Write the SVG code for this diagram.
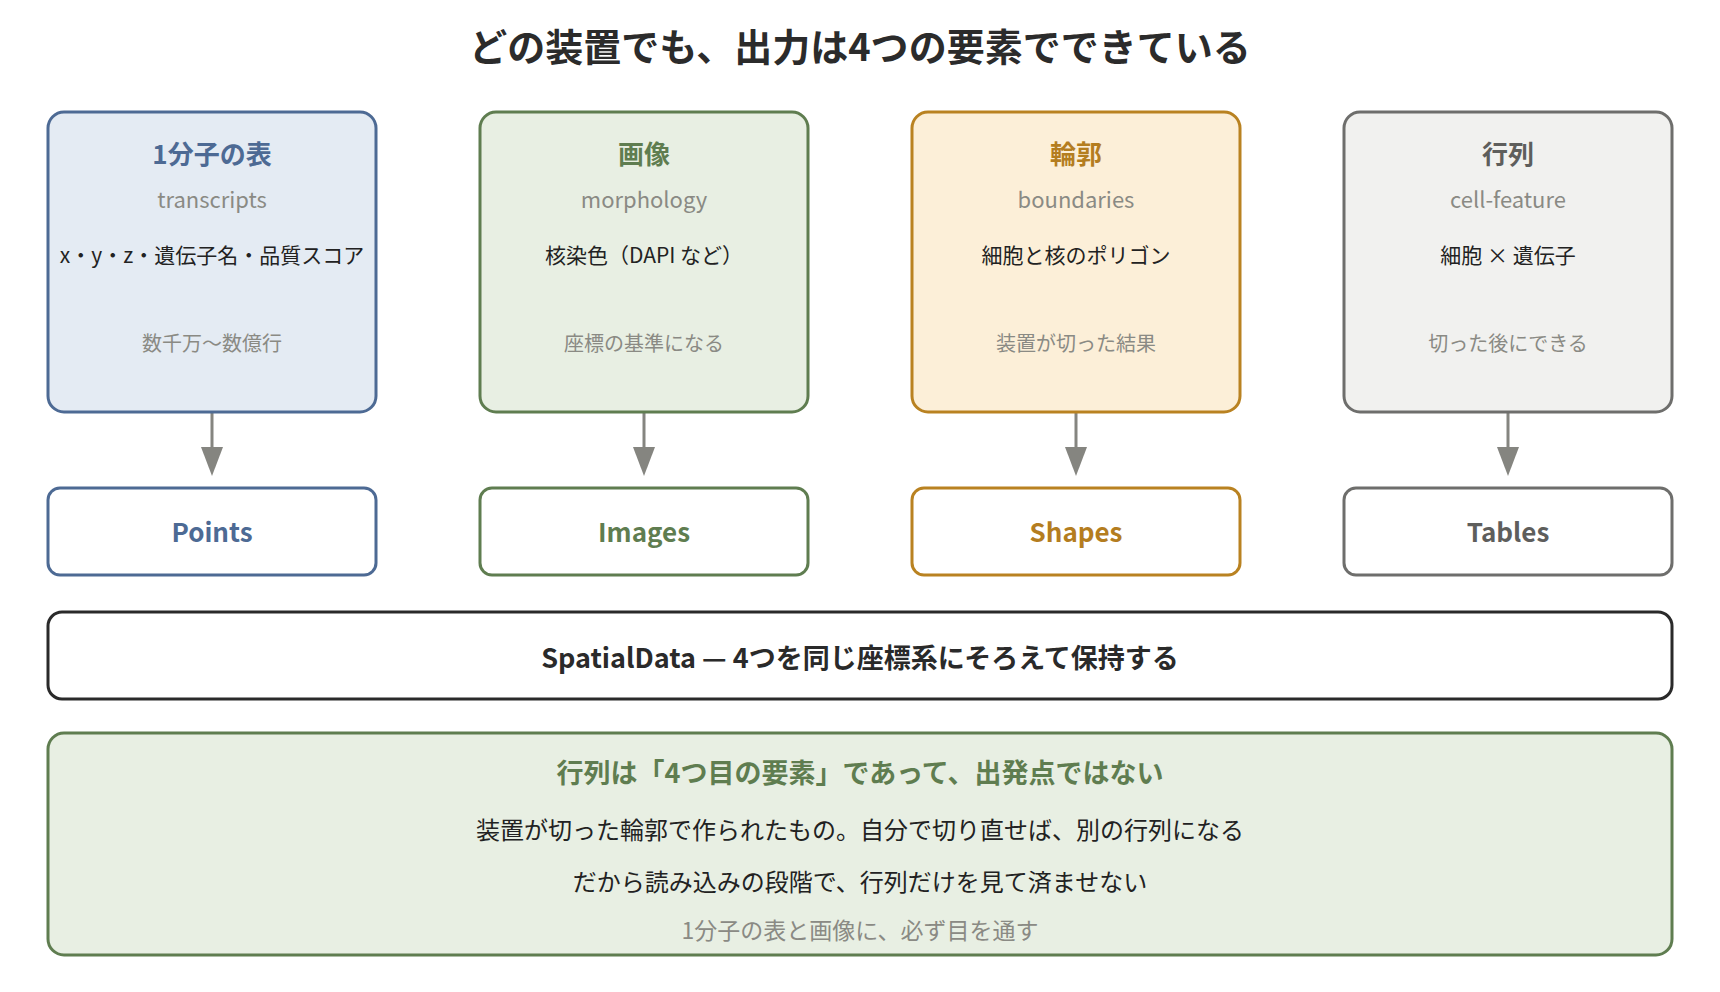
<svg xmlns="http://www.w3.org/2000/svg" width="1720" height="992" viewBox="0 0 1720 992">
<defs>
<style>
text{font-family:"Noto Sans CJK JP","Noto Sans",sans-serif;text-anchor:middle;dominant-baseline:central}
.title{font-size:38px;font-weight:700;fill:#2b2b2b}
.h{font-size:26px;font-weight:700}
.en{font-size:22px;fill:#8a8a84}
.body{font-size:21px;fill:#222}
.note{font-size:20px;fill:#8a8a84}
.lbl{font-size:26px;font-weight:700}
.box{stroke-width:3}
.conn{stroke:#858580;stroke-width:3;fill:none}
</style>
</defs>
<rect width="1720" height="992" fill="#ffffff"/>
<text class="title" x="860" y="44">どの装置でも、出力は4つの要素でできている</text>

<g id="connectors">
<line class="conn" x1="212" y1="413" x2="212" y2="447"/>
<path d="M201,447 L223,447 L212,476 Z" fill="#858580"/>
<line class="conn" x1="644" y1="413" x2="644" y2="447"/>
<path d="M633,447 L655,447 L644,476 Z" fill="#858580"/>
<line class="conn" x1="1076" y1="413" x2="1076" y2="447"/>
<path d="M1065,447 L1087,447 L1076,476 Z" fill="#858580"/>
<line class="conn" x1="1508" y1="413" x2="1508" y2="447"/>
<path d="M1497,447 L1519,447 L1508,476 Z" fill="#858580"/>
</g>

<g id="node-transcripts">
<rect class="box" x="48" y="112" width="328" height="300" rx="16" fill="#e4ebf3" stroke="#4d6a94"/>
<text class="h" x="212" y="152" fill="#4d6a94">1分子の表</text>
<text class="en" x="212" y="198">transcripts</text>
<text class="body" x="212" y="254">x・y・z・遺伝子名・品質スコア</text>
<text class="note" x="212" y="342">数千万〜数億行</text>
</g>
<g id="node-morphology">
<rect class="box" x="480" y="112" width="328" height="300" rx="16" fill="#e8efe3" stroke="#5f7d50"/>
<text class="h" x="644" y="152" fill="#5f7d50">画像</text>
<text class="en" x="644" y="198">morphology</text>
<text class="body" x="644" y="254">核染色（DAPI など）</text>
<text class="note" x="644" y="342">座標の基準になる</text>
</g>
<g id="node-boundaries">
<rect class="box" x="912" y="112" width="328" height="300" rx="16" fill="#fcefd8" stroke="#b98221"/>
<text class="h" x="1076" y="152" fill="#b47d1f">輪郭</text>
<text class="en" x="1076" y="198">boundaries</text>
<text class="body" x="1076" y="254">細胞と核のポリゴン</text>
<text class="note" x="1076" y="342">装置が切った結果</text>
</g>
<g id="node-cellfeature">
<rect class="box" x="1344" y="112" width="328" height="300" rx="16" fill="#f1f1ef" stroke="#6e6e6c"/>
<text class="h" x="1508" y="152" fill="#5e5e5c">行列</text>
<text class="en" x="1508" y="198">cell-feature</text>
<text class="body" x="1508" y="254">細胞 × 遺伝子</text>
<text class="note" x="1508" y="342">切った後にできる</text>
</g>

<g id="node-points">
<rect class="box" x="48" y="488" width="328" height="87" rx="12" fill="#ffffff" stroke="#4d6a94"/>
<text class="lbl" x="212" y="530" fill="#4d6a94">Points</text>
</g>
<g id="node-images">
<rect class="box" x="480" y="488" width="328" height="87" rx="12" fill="#ffffff" stroke="#5f7d50"/>
<text class="lbl" x="644" y="530" fill="#5f7d50">Images</text>
</g>
<g id="node-shapes">
<rect class="box" x="912" y="488" width="328" height="87" rx="12" fill="#ffffff" stroke="#b98221"/>
<text class="lbl" x="1076" y="530" fill="#b47d1f">Shapes</text>
</g>
<g id="node-tables">
<rect class="box" x="1344" y="488" width="328" height="87" rx="12" fill="#ffffff" stroke="#6e6e6c"/>
<text class="lbl" x="1508" y="530" fill="#5e5e5c">Tables</text>
</g>

<g id="node-spatialdata">
<rect class="box" x="48" y="612" width="1624" height="87" rx="14" fill="#ffffff" stroke="#2a2a2a"/>
<text x="860" y="656" style="font-size:27px;font-weight:700;fill:#2a2a2a">SpatialData — 4つを同じ座標系にそろえて保持する</text>
</g>

<g id="node-note">
<rect class="box" x="48" y="733" width="1624" height="222" rx="16" fill="#e8efe3" stroke="#5f7d50"/>
<text x="860" y="771" style="font-size:27px;font-weight:700;fill:#5f7d50">行列は「4つ目の要素」であって、出発点ではない</text>
<text class="body" x="860" y="828" style="font-size:24px">装置が切った輪郭で作られたもの。自分で切り直せば、別の行列になる</text>
<text class="body" x="860" y="880" style="font-size:24px">だから読み込みの段階で、行列だけを見て済ませない</text>
<text class="note" x="860" y="929" style="font-size:23px">1分子の表と画像に、必ず目を通す</text>
</g>
</svg>
